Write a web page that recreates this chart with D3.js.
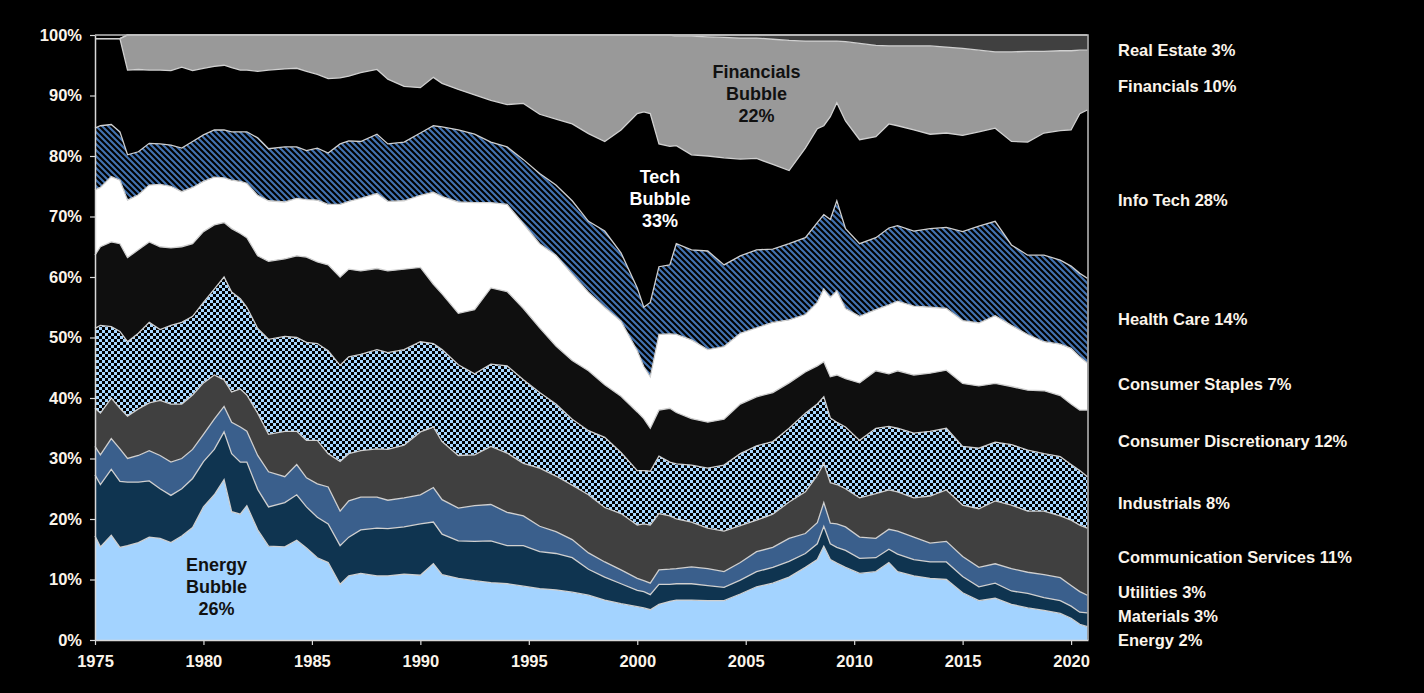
<!DOCTYPE html>
<html>
<head>
<meta charset="utf-8">
<script src="https://cdn.jsdelivr.net/npm/d3@7"></script>
<style>
  html, body { margin: 0; padding: 0; background: #000; }
  svg { display: block; }
  text { font-family: Arial, "Liberation Sans", sans-serif; font-weight: bold; }
</style>
</head>
<body>
<svg id="chart" width="1424" height="693"></svg>
<script>
// S&P 500 sector weights (% of index)
const years = [1975.0, 1975.25, 1975.75, 1976.15, 1976.5, 1977.0, 1977.5, 1978.0, 1978.5, 1979.0,
  1979.5, 1980.0, 1980.5, 1980.95, 1981.3, 1981.7, 1982.0, 1982.5, 1983.0, 1983.75,
  1984.3, 1984.75, 1985.25, 1985.75, 1986.3, 1986.7, 1987.25, 1988.0, 1988.5, 1989.25,
  1990.0, 1990.6, 1991.0, 1991.75, 1992.5, 1993.25, 1994.0, 1994.75, 1995.5, 1996.25,
  1997.0, 1997.75, 1998.5, 1999.25, 2000.0, 2000.3, 2000.6, 2001.0, 2001.5, 2001.8,
  2002.5, 2003.25, 2004.0, 2004.75, 2005.5, 2006.25, 2007.0, 2007.75, 2008.3, 2008.6,
  2008.9, 2009.2, 2009.6, 2010.25, 2011.0, 2011.6, 2012.0, 2012.75, 2013.5, 2014.25,
  2015.0, 2015.75, 2016.5, 2017.25, 2018.0, 2018.75, 2019.5, 2020.0, 2020.4, 2020.75];

const energy = [17.2, 15.4, 17.3, 15.3, 15.6, 16.1, 17.0, 16.8, 16.1, 17.2,
  18.6, 22.0, 24.0, 26.5, 21.2, 20.8, 22.2, 18.2, 15.5, 15.4,
  16.5, 15.2, 13.6, 12.8, 9.2, 10.6, 11.0, 10.6, 10.6, 10.9,
  10.7, 12.6, 10.8, 10.2, 9.8, 9.5, 9.3, 8.9, 8.5, 8.3,
  7.9, 7.4, 6.6, 6.0, 5.5, 5.3, 5.0, 5.9, 6.4, 6.6,
  6.6, 6.5, 6.5, 7.6, 8.8, 9.4, 10.4, 12.0, 13.3, 15.5,
  13.3, 12.7, 12.0, 11.0, 11.3, 12.8, 11.3, 10.6, 10.2, 10.0,
  7.8, 6.5, 6.9, 5.9, 5.3, 4.9, 4.4, 3.6, 2.6, 2.2];

const materials = [10.1, 10.3, 10.9, 10.9, 10.5, 10.0, 9.3, 8.2, 7.8, 7.8,
  8.1, 7.5, 7.5, 7.9, 9.6, 8.6, 7.2, 6.7, 6.5, 7.3,
  7.5, 6.8, 6.7, 6.4, 6.4, 6.4, 7.2, 7.9, 7.8, 7.8,
  8.5, 6.9, 6.7, 6.2, 6.5, 6.9, 6.3, 6.7, 6.1, 6.0,
  5.7, 4.3, 3.8, 3.3, 2.7, 2.7, 2.5, 3.3, 2.8, 2.7,
  2.7, 2.5, 2.2, 2.3, 2.5, 2.6, 2.6, 2.3, 2.6, 3.3,
  2.6, 2.6, 2.8, 2.5, 2.3, 2.2, 2.9, 2.7, 2.7, 2.9,
  2.7, 2.3, 2.5, 2.2, 2.4, 2.1, 2.1, 2.0, 2.0, 2.3];

const utilities = [4.7, 4.9, 5.1, 5.4, 3.9, 4.4, 5.0, 5.5, 5.5, 5.0,
  4.8, 4.5, 5.0, 4.2, 5.2, 5.8, 5.1, 5.6, 5.8, 4.3,
  5.0, 4.8, 5.5, 6.1, 5.7, 6.0, 5.4, 5.1, 4.7, 4.8,
  4.8, 5.7, 5.7, 5.4, 5.9, 6.0, 5.5, 4.9, 4.2, 3.6,
  3.0, 2.7, 2.5, 2.3, 2.0, 1.8, 1.9, 2.4, 2.5, 2.5,
  2.8, 2.8, 2.6, 2.9, 3.3, 3.3, 3.8, 3.3, 3.5, 3.9,
  3.4, 3.9, 3.9, 3.5, 3.2, 3.3, 3.8, 3.7, 3.1, 3.4,
  3.3, 3.2, 3.2, 3.7, 3.5, 3.8, 3.8, 3.4, 3.4, 2.9];

const commServices = [6.3, 6.9, 6.7, 6.7, 7.0, 7.7, 7.9, 9.1, 9.6, 9.0,
  9.0, 8.5, 7.3, 4.4, 5.0, 6.3, 6.0, 7.0, 6.2, 7.5,
  5.5, 6.2, 7.2, 5.5, 8.2, 7.8, 7.7, 8.0, 8.4, 8.7,
  10.4, 10.0, 9.6, 8.7, 8.4, 9.6, 9.8, 8.7, 9.6, 9.2,
  9.0, 9.6, 9.0, 9.3, 8.8, 9.4, 9.6, 9.3, 8.8, 8.2,
  7.4, 6.7, 6.7, 6.1, 5.2, 5.5, 6.0, 6.9, 7.8, 6.5,
  6.7, 6.5, 6.3, 6.5, 7.4, 6.5, 6.5, 6.5, 7.8, 8.5,
  8.5, 9.7, 10.4, 10.5, 10.1, 10.5, 10.2, 10.8, 11.0, 11.1];

const industrials = [13.2, 14.5, 11.8, 12.7, 12.3, 12.5, 13.3, 11.7, 13.0, 13.5,
  13.0, 13.3, 14.2, 17.0, 16.5, 14.9, 14.5, 14.0, 15.7, 15.7,
  15.5, 16.2, 16.0, 17.0, 15.9, 16.0, 15.9, 16.4, 16.0, 15.8,
  14.9, 13.8, 15.2, 15.0, 13.4, 13.6, 14.4, 13.8, 12.5, 11.9,
  10.9, 10.6, 11.6, 10.1, 9.0, 8.8, 8.9, 9.5, 8.9, 9.1,
  9.4, 9.9, 10.9, 11.9, 12.3, 12.0, 12.2, 13.0, 11.8, 11.0,
  10.7, 10.3, 10.2, 9.5, 10.8, 10.5, 10.5, 10.7, 10.7, 10.2,
  9.7, 10.0, 9.7, 10.0, 10.1, 9.5, 9.8, 9.2, 9.0, 8.5];

const consDiscretionary = [12.1, 13.0, 14.0, 14.5, 13.9, 13.8, 13.3, 13.7, 12.8, 12.5,
  12.0, 11.7, 10.6, 9.0, 10.5, 10.8, 11.5, 12.0, 12.9, 12.8,
  13.5, 14.1, 13.5, 14.2, 14.6, 14.5, 13.8, 13.4, 13.5, 13.3,
  12.3, 9.8, 9.2, 8.5, 10.6, 12.6, 12.3, 11.8, 10.7, 9.6,
  9.7, 9.9, 8.7, 9.3, 9.7, 8.6, 7.1, 7.6, 8.9, 8.5,
  7.7, 7.6, 7.6, 8.2, 8.1, 8.1, 7.5, 6.8, 6.3, 5.8,
  6.8, 7.8, 8.0, 9.5, 9.5, 8.7, 9.5, 9.6, 9.6, 9.6,
  10.4, 10.3, 9.7, 9.6, 9.9, 10.4, 10.1, 10.0, 10.0, 11.0];

const consStaples = [10.8, 9.8, 10.8, 10.5, 9.5, 9.1, 9.4, 10.3, 10.2, 9.1,
  9.3, 8.3, 7.9, 7.4, 8.0, 8.6, 9.0, 10.0, 10.0, 9.4,
  9.5, 9.5, 10.2, 10.0, 12.0, 11.2, 12.0, 12.4, 11.5, 11.3,
  11.9, 15.2, 16.1, 18.4, 17.7, 14.1, 14.4, 14.0, 13.9, 15.0,
  14.3, 13.0, 12.8, 12.4, 10.1, 8.6, 8.5, 12.5, 12.3, 12.9,
  13.0, 12.0, 12.0, 11.7, 11.4, 11.6, 10.4, 9.5, 10.5, 12.0,
  13.1, 13.9, 11.6, 11.0, 10.1, 11.4, 11.5, 11.4, 10.9, 10.2,
  10.4, 10.4, 11.2, 10.1, 9.2, 8.1, 8.5, 9.2, 8.8, 7.8];

const healthCare = [10.2, 10.2, 8.6, 8.0, 7.5, 7.1, 6.9, 6.7, 6.8, 7.2,
  7.6, 7.7, 7.8, 7.9, 8.0, 8.2, 8.5, 9.5, 8.6, 9.1,
  8.5, 8.1, 8.6, 8.5, 10.0, 10.0, 9.4, 9.8, 9.5, 9.7,
  10.3, 11.0, 11.5, 11.9, 11.3, 10.0, 9.5, 10.6, 11.6, 11.6,
  12.1, 11.7, 12.6, 11.3, 10.4, 9.8, 12.3, 11.2, 11.4, 15.0,
  14.9, 16.3, 13.5, 12.8, 12.9, 12.1, 12.6, 12.7, 13.2, 12.3,
  12.9, 14.9, 13.2, 12.0, 11.9, 12.7, 12.5, 12.4, 13.0, 13.4,
  14.7, 16.0, 15.6, 13.3, 13.1, 14.3, 13.9, 13.6, 13.8, 14.0];

const infoTech = [14.8, 14.4, 14.2, 15.4, 14.0, 13.6, 12.1, 12.2, 12.3, 13.4,
  11.7, 11.0, 10.5, 10.7, 10.6, 10.2, 10.2, 11.0, 13.0, 12.9,
  13.0, 13.1, 12.2, 12.3, 10.9, 10.7, 11.4, 10.7, 10.7, 9.2,
  7.5, 8.0, 7.2, 6.7, 6.5, 6.9, 7.0, 9.3, 9.8, 10.9,
  12.7, 14.5, 14.8, 20.3, 28.8, 32.3, 31.2, 20.3, 19.6, 16.2,
  15.7, 15.7, 17.7, 16.0, 15.1, 14.0, 12.1, 14.8, 15.5, 14.7,
  17.0, 16.2, 17.8, 17.2, 16.7, 17.2, 16.5, 16.7, 15.6, 15.6,
  15.9, 15.6, 15.4, 17.1, 18.7, 20.2, 21.4, 22.5, 26.4, 27.8];

const financials = [0, 0, 0, 0, 5.8, 5.7, 5.8, 5.8, 5.9, 5.3,
  5.9, 5.5, 5.2, 5.0, 5.4, 5.8, 5.8, 6.0, 5.8, 5.6,
  5.5, 6.0, 6.5, 7.2, 7.1, 6.8, 6.2, 5.7, 7.3, 8.5,
  8.7, 7.0, 8.0, 9.0, 9.9, 10.8, 11.5, 11.3, 13.1, 13.9,
  14.7, 16.3, 17.6, 15.7, 13.0, 12.7, 13.0, 18.0, 18.4, 18.1,
  19.6, 19.7, 19.9, 20.0, 19.9, 20.7, 21.5, 17.7, 14.5, 14.0,
  12.5, 10.2, 13.1, 15.9, 15.1, 12.9, 13.2, 13.9, 14.6, 14.2,
  14.4, 13.5, 12.6, 14.8, 15.0, 13.5, 13.2, 13.1, 10.5, 9.9];

const realEstate = [0, 0, 0, 0, 0, 0, 0, 0, 0, 0,
  0, 0, 0, 0, 0, 0, 0, 0, 0, 0,
  0, 0, 0, 0, 0, 0, 0, 0, 0, 0,
  0, 0, 0, 0, 0, 0, 0, 0, 0, 0,
  0, 0, 0, 0, 0, 0, 0, 0, 0, 0.2,
  0.2, 0.3, 0.4, 0.5, 0.5, 0.7, 0.9, 1.0, 1.0, 1.0,
  1.0, 1.0, 1.1, 1.4, 1.7, 1.8, 1.8, 1.8, 1.8, 2.0,
  2.2, 2.5, 2.8, 2.8, 2.7, 2.7, 2.6, 2.6, 2.5, 2.5];

// bottom to top
const keys = ["energy", "materials", "utilities", "commServices", "industrials",
  "consDiscretionary", "consStaples", "healthCare", "infoTech", "financials", "realEstate"];
const series = {energy, materials, utilities, commServices, industrials,
  consDiscretionary, consStaples, healthCare, infoTech, financials, realEstate};

const sideLabels = ["Energy 2%", "Materials 3%", "Utilities 3%", "Communication Services 11%",
  "Industrials 8%", "Consumer Discretionary 12%", "Consumer Staples 7%", "Health Care 14%",
  "Info Tech 28%", "Financials 10%", "Real Estate 3%"];
// where each side label sits, in % of the y axis
const sideLabelLevel = [0, 4.0, 7.9, 13.6, 22.6, 32.9, 42.3, 53.1, 72.7, 91.6, 97.5];

const fills = {
  energy: "#a3d3ff", materials: "#0f3450", utilities: "#3a5f8c", commServices: "#404040",
  industrials: "url(#checker)", consDiscretionary: "#0f0f0f", consStaples: "#ffffff",
  healthCare: "url(#hatch)", infoTech: "#000000", financials: "#999999", realEstate: "#404040"
};

const svg = d3.select("#chart");

const x = d3.scaleLinear().domain([1975, 2020.78]).range([95, 1088]);
const y = d3.scaleLinear().domain([0, 100]).range([640, 35]);

// patterns
const defs = svg.append("defs");
const hatch = defs.append("pattern")
  .attr("id", "hatch").attr("patternUnits", "userSpaceOnUse")
  .attr("width", 6).attr("height", 6);
hatch.append("rect").attr("width", 6).attr("height", 6).attr("fill", "#000");
hatch.append("path")
  .attr("d", "M-1,-1 L7,7 M-1,5 L1,7 M5,-1 L7,1")
  .attr("stroke", "#4272b0").attr("stroke-width", 2.1);

const checker = defs.append("pattern")
  .attr("id", "checker").attr("patternUnits", "userSpaceOnUse")
  .attr("width", 6).attr("height", 6);
checker.append("rect").attr("width", 6).attr("height", 6).attr("fill", "#000");
checker.append("rect").attr("width", 3).attr("height", 3).attr("fill", "#a6d6ff");
checker.append("rect").attr("x", 3).attr("y", 3).attr("width", 3).attr("height", 3).attr("fill", "#a6d6ff");

const rows = years.map((yr, i) => {
  const r = {year: yr};
  keys.forEach(k => r[k] = series[k][i]);
  return r;
});
const stacked = d3.stack().keys(keys)(rows);

const area = d3.area()
  .x(d => x(d.data.year))
  .y0(d => y(d[0]))
  .y1(d => y(d[1]));

const topLine = d3.line()
  .x(d => x(d.data.year))
  .y(d => y(d[1]));

svg.append("g").selectAll("path")
  .data(stacked)
  .enter()
  .append("path")
    .attr("d", area)
    .attr("fill", d => fills[d.key]);

svg.append("g").selectAll("path")
  .data(stacked)
  .enter()
  .append("path")
    .attr("d", topLine)
    .attr("fill", "none")
    .attr("stroke", "#d0d0d0")
    .attr("stroke-width", 1.3);

// frame on top and right
svg.append("path")
  .attr("d", `M${x(1975)},${y(100)} H${x(2020.78)} V${y(0)}`)
  .attr("fill", "none")
  .attr("stroke", "#bdbdbd")
  .attr("stroke-width", 1.5);

// axes
const axisY = d3.axisLeft(y)
  .tickValues(d3.range(0, 101, 10))
  .tickFormat(d => d + "%")
  .tickSize(5).tickSizeOuter(0).tickPadding(8);
const axisX = d3.axisBottom(x)
  .tickValues(d3.range(1975, 2021, 5))
  .tickFormat(d3.format("d"))
  .tickSize(5).tickSizeOuter(0).tickPadding(10);

const gy = svg.append("g").attr("transform", `translate(${x(1975)},0)`).call(axisY);
const gx = svg.append("g").attr("transform", `translate(0,${y(0)})`).call(axisX);
[gy, gx].forEach(g => {
  g.select(".domain").attr("stroke", "#d8d8d8").attr("stroke-width", 1.5);
  g.selectAll(".tick line").attr("stroke", "#d8d8d8").attr("stroke-width", 1.2);
  g.selectAll(".tick text")
    .attr("fill", "#fbf4ea")
    .style("font-size", "16.5px")
    .style("font-family", "Arial, 'Liberation Sans', sans-serif")
    .style("font-weight", "bold");
});

// sector labels on the right
svg.append("g").selectAll("text")
  .data(sideLabels)
  .enter()
  .append("text")
    .attr("x", 1118)
    .attr("y", (d, i) => y(sideLabelLevel[i]))
    .attr("dy", "0.35em")
    .attr("fill", "#fbf4ea")
    .style("font-size", "16.5px")
    .text(d => d);

// bubble notes
const notes = [
  {lines: ["Energy", "Bubble", "26%"], year: 1980.6, level: 12.4, color: "#111"},
  {lines: ["Tech", "Bubble", "33%"], year: 2001.05, level: 76.5, color: "#fff"},
  {lines: ["Financials", "Bubble", "22%"], year: 2005.5, level: 94.0, color: "#111"}
];
notes.forEach(n => {
  const t = svg.append("text")
    .attr("text-anchor", "middle")
    .attr("fill", n.color)
    .style("font-size", "18px");
  n.lines.forEach((s, i) => {
    t.append("tspan")
      .attr("x", x(n.year))
      .attr("y", y(n.level) + i * 22)
      .attr("dy", "0.35em")
      .text(s);
  });
});
</script>
</body>
</html>
